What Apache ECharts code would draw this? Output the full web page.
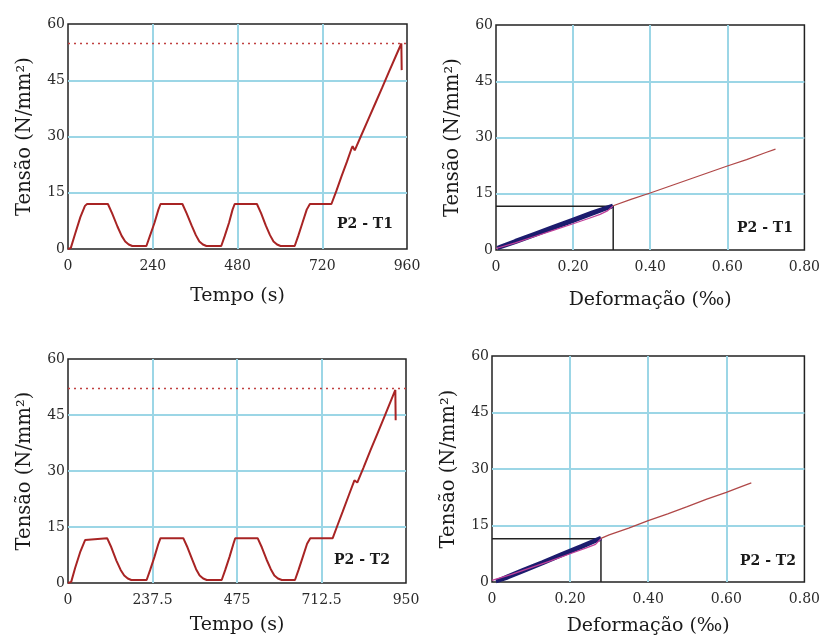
<!DOCTYPE html>
<html>
<head>
<meta charset="utf-8">
<script src="https://cdn.jsdelivr.net/npm/echarts@6/dist/echarts.min.js"></script>
<style>html,body{margin:0;padding:0;background:#fff}#c{width:823px;height:637px}</style>
</head>
<body>
<div id="c"></div>
<script>
// ---- Data ----
const yTicks = [0, 15, 30, 45, 60];
const timeTicks1 = [0, 240, 480, 720, 960];
const timeTicks2 = [0, 237.5, 475, 712.5, 950];
const strainTicks = [0, 0.2, 0.4, 0.6, 0.8];

// P2 - T1 : stress vs time
const time1 = [0, 8, 20, 35, 48, 54, 113, 125, 140, 152, 162, 172, 182, 222, 232, 245, 256, 262, 324, 336, 350, 362, 372, 382, 392, 434, 444, 456, 466, 472, 535, 547, 560, 572, 582, 592, 602, 642, 652, 664, 676, 685, 746, 760, 775, 790, 803, 806, 812, 830, 850, 870, 890, 910, 930, 944, 945];
const stress1 = [0, 0.3, 4, 8.5, 11.5, 12, 12, 9.5, 6, 3.5, 2, 1.2, 0.8, 0.8, 3.5, 7, 10.5, 12, 12, 9.5, 6.3, 3.7, 2, 1.2, 0.8, 0.8, 3.5, 7, 10.5, 12, 12, 9.5, 6.3, 3.7, 2, 1.2, 0.8, 0.8, 3.5, 7, 10.5, 12, 12, 15.5, 19.5, 23.3, 26.8, 27.4, 26.3, 30.2, 34.5, 38.8, 43.1, 47.5, 51.8, 54.8, 47.7];
const peak1 = 54.8;

// P2 - T2 : stress vs time
const time2 = [0, 9, 20, 35, 48, 53, 110, 122, 136, 148, 158, 168, 178, 221, 231, 243, 254, 260, 324, 336, 349, 360, 370, 380, 390, 432, 442, 454, 465, 470, 533, 545, 558, 570, 580, 590, 601, 638, 648, 660, 672, 681, 744, 758, 772, 790, 805, 808, 813, 830, 850, 870, 890, 910, 920, 921];
const stress2 = [0, 0.3, 4, 8.5, 11.5, 12, 12, 9.5, 6, 3.5, 2, 1.2, 0.8, 0.8, 3.5, 7, 10.5, 12, 12, 9.5, 6.3, 3.7, 2, 1.2, 0.8, 0.8, 3.5, 7, 10.5, 12, 12, 9.5, 6.3, 3.7, 2, 1.2, 0.8, 0.8, 3.5, 7, 10.5, 12, 12, 15.6, 19.1, 23.7, 27.5, 27.6, 26.9, 30.8, 35.5, 40.1, 44.7, 49.4, 51.7, 43.6];
const peak2 = 52.1;

// P2 - T1 : stress vs strain
const pinkStrain1 = [0, 0.05, 0.10, 0.15, 0.20, 0.24, 0.27, 0.29, 0.303];
const pinkStress1 = [0.4, 1.9, 3.6, 5.3, 7.0, 8.4, 9.5, 10.5, 11.7];
const blueStrain1 = [0.303, 0.25, 0.20, 0.15, 0.10, 0.05, 0.012, 0.005, 0.05, 0.10, 0.15, 0.20, 0.25, 0.300, 0.300, 0.25, 0.20, 0.15, 0.10, 0.05, 0.010, 0.004, 0.05, 0.10, 0.15, 0.20, 0.25, 0.302];
const blueStress1 = [11.8, 10.0, 8.1, 6.2, 4.3, 2.4, 0.9, 0.6, 2.2, 4.1, 6.0, 7.9, 9.8, 11.6, 11.7, 9.9, 8.0, 6.1, 4.2, 2.3, 0.8, 0.5, 2.1, 4.0, 5.9, 7.8, 9.7, 11.7];
const redStrain1 = [0.304, 0.35, 0.40, 0.45, 0.50, 0.55, 0.60, 0.65, 0.70, 0.725];
const redStress1 = [11.8, 13.5, 15.2, 17.0, 18.8, 20.6, 22.4, 24.1, 26.0, 26.9];
const limStrain1 = 0.304, limStress1 = 11.7;

// P2 - T2 : stress vs strain
const pinkStrain2 = [0, 0.05, 0.10, 0.15, 0.20, 0.24, 0.265, 0.279];
const pinkStress2 = [0.4, 2.0, 3.8, 5.6, 7.5, 9.0, 10.0, 11.5];
const blueStrain2 = [0.279, 0.23, 0.18, 0.13, 0.08, 0.04, 0.018, 0.012, 0.04, 0.08, 0.13, 0.18, 0.23, 0.276, 0.278, 0.23, 0.18, 0.13, 0.08, 0.04, 0.016, 0.010, 0.04, 0.08, 0.13, 0.18, 0.23, 0.279];
const blueStress2 = [11.7, 9.6, 7.5, 5.3, 3.2, 1.5, 0.5, 0.3, 1.3, 3.0, 5.1, 7.3, 9.4, 11.4, 11.6, 9.5, 7.4, 5.2, 3.1, 1.4, 0.4, 0.2, 1.2, 2.9, 5.0, 7.2, 9.3, 11.6];
const redStrain2 = [0.279, 0.30, 0.35, 0.40, 0.45, 0.50, 0.55, 0.60, 0.64, 0.664];
const redStress2 = [11.6, 12.5, 14.3, 16.3, 18.1, 20.0, 22.0, 23.8, 25.4, 26.3];
const limStrain2 = 0.279, limStress2 = 11.5;

const panelLabels = ['P2 - T1', 'P2 - T1', 'P2 - T2', 'P2 - T2'];

// ---- Helpers ----
const zip = (a, b) => a.map((v, i) => [v, b[i]]);
const FONT = 'DejaVu Serif';
const gridColor = '#9cd6e6';
const frame = '#222';

const grids = [
  {left: 68, top: 24, width: 339, height: 225},
  {left: 496, top: 25, width: 311, height: 225},
  {left: 68, top: 359, width: 338, height: 224},
  {left: 492, top: 356, width: 317, height: 229}
].map(g => Object.assign(g, {show: true, borderColor: frame, borderWidth: 1.5, backgroundColor: '#fff'}));

function xAxis(idx, ticks, name, gap, fmt) {
  return {
    type: 'value', gridIndex: idx, min: ticks[0], max: ticks[ticks.length - 1],
    interval: ticks[1] - ticks[0],
    name: name, nameLocation: 'middle', nameGap: gap,
    nameTextStyle: {fontFamily: FONT, fontSize: 19, color: '#1a1a1a'},
    axisLine: {show: false}, axisTick: {show: false},
    axisLabel: {fontFamily: FONT, fontSize: 14, color: '#2a2a2a', margin: 10, formatter: fmt,
      showMinLabel: true, showMaxLabel: true},
    splitLine: {show: true, showMinLine: false, showMaxLine: false, lineStyle: {color: gridColor, width: 2}}
  };
}
function yAxis(idx) {
  return {
    type: 'value', gridIndex: idx, min: yTicks[0], max: yTicks[yTicks.length - 1],
    interval: yTicks[1] - yTicks[0],
    name: 'Tensão (N/mm²)', nameLocation: 'middle', nameGap: 33,
    nameTextStyle: {fontFamily: FONT, fontSize: 19.5, color: '#1a1a1a'},
    axisLine: {show: false}, axisTick: {show: false},
    axisLabel: {fontFamily: FONT, fontSize: 14, color: '#2a2a2a', margin: 3},
    splitLine: {show: true, showMinLine: false, showMaxLine: false, lineStyle: {color: gridColor, width: 2}}
  };
}
const strainFmt = v => v === 0 ? '0' : v.toFixed(2);

function line(idx, data, color, width, extra) {
  return Object.assign({
    type: 'line', xAxisIndex: idx, yAxisIndex: idx, data: data, symbol: 'none',
    lineStyle: {color: color, width: width}, silent: true, z: 3
  }, extra || {});
}

const red = '#a82424';
const series = [
  line(0, [[timeTicks1[0], peak1], [timeTicks1[4], peak1]], '#c04040', 1.5, {lineStyle: {color: '#c04040', width: 1.6, type: [2, 4]}}),
  line(0, zip(time1, stress1), red, 2),
  line(2, [[timeTicks2[0], peak2], [timeTicks2[4], peak2]], '#c04040', 1.5, {lineStyle: {color: '#c04040', width: 1.6, type: [2, 4]}}),
  line(2, zip(time2, stress2), red, 2),

  line(1, [[0, limStress1], [limStrain1, limStress1], [limStrain1, 0]], frame, 1.5),
  line(1, zip(blueStrain1, blueStress1), '#1c1c6e', 4),
  line(1, zip(pinkStrain1, pinkStress1), '#c0409a', 1.3),
  line(1, zip(redStrain1, redStress1), '#b04848', 1.3),

  line(3, [[0, limStress2], [limStrain2, limStress2], [limStrain2, 0]], frame, 1.5),
  line(3, zip(blueStrain2, blueStress2), '#1c1c6e', 4),
  line(3, zip(pinkStrain2, pinkStress2), '#c0409a', 1.3),
  line(3, zip(redStrain2, redStress2), '#b04848', 1.3)
];

const labelPos = [[365, 224], [765, 228], [362, 560], [768, 561]];
const graphic = panelLabels.map((t, i) => ({
  type: 'text', x: labelPos[i][0], y: labelPos[i][1], z: 10,
  style: {text: t, fontFamily: FONT, fontWeight: 'bold', fontSize: 14, fill: '#1a1a1a', align: 'center', verticalAlign: 'middle'}
}));

const chart = echarts.init(document.getElementById('c'), null, {renderer: 'canvas'});
chart.setOption({
  animation: false,
  backgroundColor: '#fff',
  grid: grids,
  xAxis: [
    xAxis(0, timeTicks1, 'Tempo (s)', 38),
    xAxis(1, strainTicks, 'Deformação (‰)', 41, strainFmt),
    xAxis(2, timeTicks2, 'Tempo (s)', 33),
    xAxis(3, strainTicks, 'Deformação (‰)', 35, strainFmt)
  ],
  yAxis: [yAxis(0), yAxis(1), yAxis(2), yAxis(3)],
  series: series,
  graphic: graphic
});
</script>
</body>
</html>
